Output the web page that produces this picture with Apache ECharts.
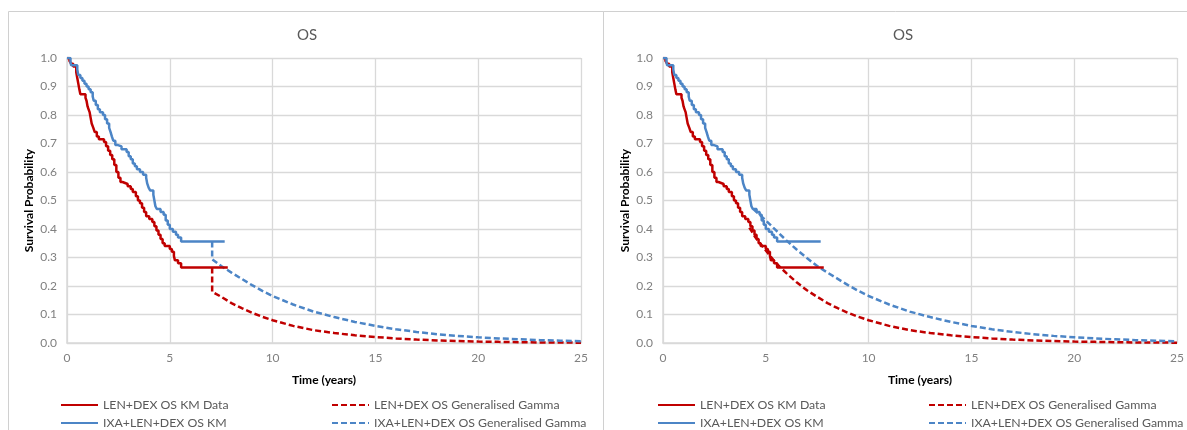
<!DOCTYPE html>
<html>
<head>
<meta charset="utf-8">
<script src="https://cdn.jsdelivr.net/npm/echarts@6/dist/echarts.min.js"></script>
<style>
html,body{margin:0;padding:0;background:#fff;}
#chart{width:1187px;height:430px;}
</style>
</head>
<body>
<div id="chart"></div>
<script>
// ---- Data ----
const xTicksMax = 25;
const seriesNames = ['LEN+DEX OS KM Data', 'IXA+LEN+DEX OS KM', 'LEN+DEX OS Generalised Gamma', 'IXA+LEN+DEX OS Generalised Gamma'];

// Kaplan-Meier: LEN+DEX
const kmRedTime = [0, 0.12, 0.2, 0.3, 0.45, 0.5, 0.55, 0.6, 0.65, 0.9, 0.95, 1.0, 1.05, 1.1, 1.15, 1.2, 1.28, 1.35, 1.45, 1.55, 1.8, 1.9, 2.0, 2.1, 2.2, 2.3, 2.4, 2.5, 2.6, 2.7, 2.95, 3.1, 3.2, 3.35, 3.45, 3.55, 3.65, 3.75, 3.85, 4.0, 4.15, 4.25, 4.35, 4.45, 4.55, 4.65, 4.75, 5.0, 5.1, 5.2, 5.25, 5.4, 5.55, 7.82];
const kmRedSurv = [1.0, 0.99, 0.98, 0.97, 0.95, 0.93, 0.91, 0.89, 0.873, 0.86, 0.85, 0.83, 0.82, 0.81, 0.79, 0.77, 0.755, 0.74, 0.725, 0.715, 0.705, 0.69, 0.675, 0.66, 0.645, 0.625, 0.6, 0.58, 0.565, 0.558, 0.55, 0.54, 0.53, 0.515, 0.5, 0.49, 0.475, 0.46, 0.445, 0.435, 0.425, 0.41, 0.395, 0.38, 0.365, 0.35, 0.34, 0.33, 0.32, 0.305, 0.29, 0.28, 0.265, 0.265];

// Kaplan-Meier: IXA+LEN+DEX
const kmBlueTime = [0, 0.17, 0.2, 0.5, 0.55, 0.65, 0.75, 0.85, 0.95, 1.05, 1.15, 1.25, 1.3, 1.4, 1.5, 1.6, 1.75, 1.85, 1.95, 2.05, 2.12, 2.18, 2.25, 2.35, 2.45, 2.65, 2.9, 3.0, 3.1, 3.2, 3.3, 3.4, 3.55, 3.7, 3.85, 3.9, 3.97, 4.05, 4.2, 4.25, 4.3, 4.37, 4.55, 4.7, 4.8, 4.9, 5.0, 5.15, 5.3, 5.4, 5.55, 7.67];
const kmBlueSurv = [1.0, 0.985, 0.975, 0.96, 0.94, 0.93, 0.92, 0.91, 0.9, 0.89, 0.88, 0.865, 0.85, 0.835, 0.82, 0.81, 0.8, 0.785, 0.77, 0.755, 0.74, 0.725, 0.71, 0.695, 0.69, 0.68, 0.67, 0.655, 0.645, 0.63, 0.62, 0.61, 0.6, 0.59, 0.58, 0.56, 0.545, 0.535, 0.52, 0.5, 0.48, 0.47, 0.46, 0.45, 0.43, 0.415, 0.4, 0.39, 0.38, 0.37, 0.356, 0.356];

// Generalised Gamma fits
const ggRedTime = [4.2, 4.5, 5, 5.5, 6, 6.5, 7, 7.5, 8, 8.5, 9, 9.5, 10, 11, 12, 13, 14, 15, 16, 17, 18, 19, 20, 21, 22, 23, 24, 25];
const ggRedSurv = [0.405, 0.37, 0.325, 0.28, 0.245, 0.213, 0.185, 0.162, 0.14, 0.122, 0.106, 0.092, 0.08, 0.06, 0.045, 0.035, 0.027, 0.021, 0.016, 0.012, 0.009, 0.007, 0.005, 0.004, 0.003, 0.002, 0.002, 0.001];
const ggBlueTime = [4.4, 4.5, 5, 5.5, 6, 6.5, 7, 7.5, 8, 8.5, 9, 9.5, 10, 11, 12, 13, 14, 15, 16, 17, 18, 19, 20, 21, 22, 23, 24, 25];
const ggBlueSurv = [0.47, 0.463, 0.43, 0.395, 0.36, 0.328, 0.298, 0.27, 0.247, 0.225, 0.203, 0.183, 0.165, 0.135, 0.11, 0.091, 0.074, 0.06, 0.048, 0.039, 0.031, 0.025, 0.02, 0.016, 0.013, 0.01, 0.008, 0.006];

// Left panel: extrapolation starts at this time (with vertical join)
const leftStartTime = 7.06;
const leftStartRed = 0.18;
const leftStartBlue = 0.294;

// ---- Build ----
const RED = '#C00000', BLUE = '#4C85C6';
const FONT = 'Lato';
const zip = (t, s) => t.map((v, i) => [v, s[i]]);
function leftGG(t, s, kmLevel, startVal) {
  const pts = [[leftStartTime, kmLevel], [leftStartTime, startVal]];
  t.forEach((v, i) => { if (v > leftStartTime) pts.push([v, s[i]]); });
  return pts;
}

const chart = echarts.init(document.getElementById('chart'), null, {renderer: 'canvas'});

function xAxis(gi) {
  return {
    gridIndex: gi, type: 'value', min: 0, max: xTicksMax, interval: 5,
    name: 'Time (years)', nameLocation: 'middle', nameGap: 31,
    nameTextStyle: {fontFamily: FONT, fontWeight: 'bold', fontSize: 12, color: '#000'},
    axisLine: {show: true, lineStyle: {color: '#d9d9d9', width: 1.5}},
    axisTick: {show: false},
    axisLabel: {fontFamily: FONT, fontSize: 12, color: '#808080', margin: 9},
    splitLine: {show: true, lineStyle: {color: '#d9d9d9', width: 1.3}}
  };
}
function yAxis(gi) {
  return {
    gridIndex: gi, type: 'value', min: 0, max: 1, interval: 0.1,
    name: 'Survival Probability', nameLocation: 'middle', nameGap: 32,
    nameTextStyle: {fontFamily: FONT, fontWeight: 'bold', fontSize: 12, color: '#000'},
    axisLine: {show: true, lineStyle: {color: '#d9d9d9', width: 1.5}},
    axisTick: {show: false},
    axisLabel: {fontFamily: FONT, fontSize: 12, color: '#808080', margin: 10, formatter: v => v.toFixed(1)},
    splitLine: {show: true, lineStyle: {color: '#d9d9d9', width: 1.3}}
  };
}
function km(name, data, color, gi) {
  return {name, type: 'line', xAxisIndex: gi, yAxisIndex: gi, data, step: 'end', showSymbol: false, symbol: 'none',
    lineStyle: {color, width: 2.5}, itemStyle: {color}, z: 3, animation: false};
}
function gg(name, data, color, gi) {
  return {name, type: 'line', xAxisIndex: gi, yAxisIndex: gi, data, showSymbol: false, symbol: 'none',
    lineStyle: {color, width: 2.5, type: [6, 3]}, itemStyle: {color}, z: 2, animation: false};
}
function legend(left, top, name) {
  return {left, top, orient: 'horizontal', itemWidth: 37, itemHeight: 14, itemGap: 0, data: [name],
    itemStyle: {opacity: 0, borderWidth: 0},
    textStyle: {fontFamily: FONT, fontSize: 12.3, color: '#595959'}, selectedMode: false, padding: 0};
}

const kmRed = zip(kmRedTime, kmRedSurv);
const kmBlue = zip(kmBlueTime, kmBlueSurv);

chart.setOption({
  backgroundColor: '#fff',
  animation: false,
  graphic: [
    {type: 'rect', shape: {x: 8.5, y: 11.5, width: 595, height: 440}, style: {fill: 'none', stroke: '#d0d0d0', lineWidth: 1}, z: -1},
    {type: 'rect', shape: {x: 603.5, y: 11.5, width: 600, height: 440}, style: {fill: 'none', stroke: '#d0d0d0', lineWidth: 1}, z: -1}
  ],
  title: [
    {text: 'OS', left: 292, top: 23, textStyle: {fontFamily: FONT, fontSize: 15, fontWeight: 'normal', color: '#595959'}},
    {text: 'OS', left: 888, top: 23, textStyle: {fontFamily: FONT, fontSize: 15, fontWeight: 'normal', color: '#595959'}}
  ],
  grid: [
    {left: 67, top: 58, width: 514, height: 285},
    {left: 663, top: 58, width: 514, height: 285}
  ],
  xAxis: [xAxis(0), xAxis(1)],
  yAxis: [yAxis(0), yAxis(1)],
  legend: [
    legend(60, 399, seriesNames[0]),
    legend(60, 417, seriesNames[1]),
    legend(331, 399, seriesNames[2]),
    legend(331, 417, seriesNames[3]),
    legend(657, 399, seriesNames[0]),
    legend(657, 417, seriesNames[1]),
    legend(928, 399, seriesNames[2]),
    legend(928, 417, seriesNames[3])
  ],
  series: [
    gg(seriesNames[2], leftGG(ggRedTime, ggRedSurv, kmRedSurv[kmRedSurv.length - 1], leftStartRed), RED, 0),
    gg(seriesNames[3], leftGG(ggBlueTime, ggBlueSurv, kmBlueSurv[kmBlueSurv.length - 1], leftStartBlue), BLUE, 0),
    km(seriesNames[0], kmRed, RED, 0),
    km(seriesNames[1], kmBlue, BLUE, 0),
    gg(seriesNames[2], zip(ggRedTime, ggRedSurv), RED, 1),
    gg(seriesNames[3], zip(ggBlueTime, ggBlueSurv), BLUE, 1),
    km(seriesNames[0], kmRed, RED, 1),
    km(seriesNames[1], kmBlue, BLUE, 1)
  ]
});
</script>
</body>
</html>
